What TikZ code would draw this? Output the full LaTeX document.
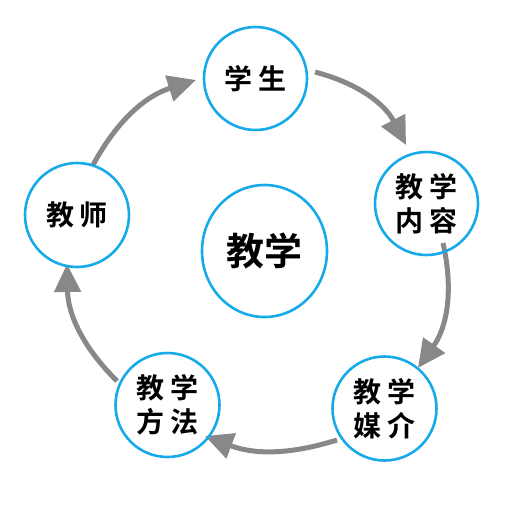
\documentclass[tikz,border=0pt]{standalone}
\usepackage{fontspec}
\newfontfamily\cjk{Noto Sans CJK SC Bold}
\usetikzlibrary{arrows.meta,shapes.geometric}
\definecolor{ringblue}{RGB}{22,170,232}
\definecolor{arrowgray}{RGB}{136,136,136}
\tikzset{
  ring/.style={circle,draw=ringblue,line width=2.6pt,inner sep=0pt,
    font=\cjk\fontsize{28}{34}\selectfont,align=center},
  bigring/.style={ellipse,draw=ringblue,line width=2.6pt,inner sep=0pt,
    minimum width=125pt,minimum height=132pt,font=\cjk\fontsize{38}{40}\selectfont},
  flow/.style={draw=arrowgray,line width=5pt,
    -{Triangle[length=28pt,width=26pt]}}
}
\newcommand{\gp}{\hspace{6pt}}
\begin{document}
\begin{tikzpicture}[x=1pt,y=-1pt]
\useasboundingbox (0,0) rectangle (529,504);
% arrow end points
\coordinate (a1s) at (93,165);  \coordinate (a1e) at (196,80);
\coordinate (a2s) at (315,72);  \coordinate (a2e) at (406,145);
\coordinate (a3s) at (443,243); \coordinate (a3e) at (418,368);
\coordinate (a4s) at (337,440); \coordinate (a4e) at (205,436);
\coordinate (a5s) at (117,381); \coordinate (a5e) at (67,264);
\draw[flow] (a1s) to[bend left=22] (a1e);
\draw[flow] (a2s) to[bend left=24] (a2e);
\draw[flow] (a3s) to[bend left=24] (a3e);
\draw[flow] (a4s) to[bend left=19] (a4e);
\draw[flow] (a5s) to[bend left=22] (a5e);
% nodes
\node[ring,minimum size=103pt] (student) at (255.5,78.5) {学\gp 生};
\node[ring,minimum size=103pt] (content) at (426.5,203.5) {教\gp 学\\内\gp 容};
\node[ring,minimum size=104pt] (media) at (384.5,408.5) {教\gp 学\\媒\gp 介};
\node[ring,minimum size=104pt] (method) at (167.5,405) {教\gp 学\\方\gp 法};
\node[ring,minimum size=104pt] (teacher) at (77,215) {教\gp 师};
\node[bigring] (core) at (264.5,251) {教学};
\end{tikzpicture}
\end{document}
